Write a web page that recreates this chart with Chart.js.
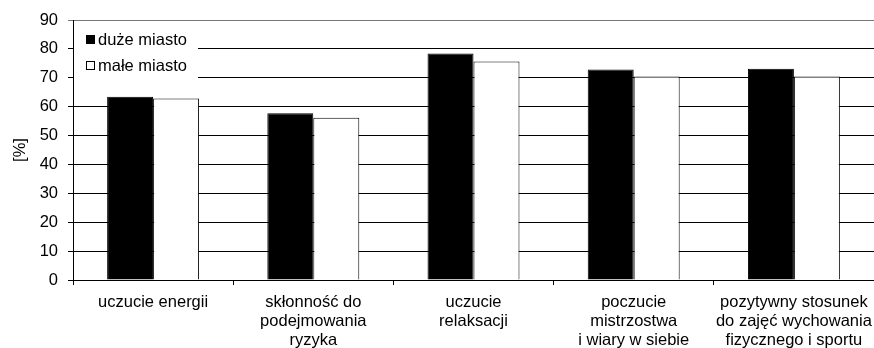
<!DOCTYPE html>
<html>
<head>
<meta charset="utf-8">
<script src="https://cdn.jsdelivr.net/npm/chart.js@4/dist/chart.umd.min.js"></script>
<style>
  html, body { margin: 0; padding: 0; background: #fff; }
  #wrap { width: 874px; height: 348px; }
</style>
</head>
<body>
<div id="wrap"><canvas id="chart" width="874" height="348"></canvas></div>
<script>
// Categories (multi-line labels)
const categories = [
  ['uczucie energii'],
  ['skłonność do', 'podejmowania', 'ryzyka'],
  ['uczucie', 'relaksacji'],
  ['poczucie', 'mistrzostwa', 'i wiary w siebie'],
  ['pozytywny stosunek', 'do zajęć wychowania', 'fizycznego i sportu']
];

const seriesNames = ['duże miasto', 'małe miasto'];

// Percent values per series
const duzeMiasto = [63.4, 57.7, 78.4, 72.9, 73.1];
const maleMiasto = [62.8, 56.2, 75.6, 70.4, 70.4];

const yTitle = '[%]';
const yMin = 0, yMax = 90, yStep = 10;

const FONT = '"Liberation Sans", Arial, Helvetica, sans-serif';
const FS = 16.5;

// Legend drawn inside the plot area on a white panel
const insideLegend = {
  id: 'insideLegend',
  afterDatasetsDraw(chart) {
    const ctx = chart.ctx;
    const a = chart.chartArea;
    ctx.save();
    ctx.fillStyle = '#ffffff';
    ctx.fillRect(a.left + 1, a.top + 5, 124, 62);
    ctx.font = FS + 'px ' + FONT;
    ctx.textBaseline = 'middle';
    ctx.textAlign = 'left';
    chart.data.datasets.forEach((ds, i) => {
      const bx = a.left + 13;
      const by = a.top + 15 + i * 26;
      ctx.fillStyle = ds.backgroundColor;
      ctx.fillRect(bx, by, 9, 9);
      ctx.strokeStyle = '#000';
      ctx.lineWidth = 1;
      ctx.strokeRect(bx + 0.5, by + 0.5, 8, 8);
      ctx.fillStyle = '#000';
      ctx.fillText(ds.label, bx + 12, by + 5);
    });
    ctx.restore();
  }
};

new Chart(document.getElementById('chart'), {
  type: 'bar',
  data: {
    labels: categories,
    datasets: [
      {
        label: seriesNames[0],
        data: duzeMiasto,
        backgroundColor: '#000000',
        borderColor: '#000000',
        borderWidth: 1
      },
      {
        label: seriesNames[1],
        data: maleMiasto,
        backgroundColor: '#ffffff',
        borderColor: '#000000',
        borderWidth: 1
      }
    ]
  },
  options: {
    responsive: false,
    animation: false,
    layout: { padding: { top: 20, right: 0, bottom: 0, left: 0 } },
    datasets: {
      bar: { categoryPercentage: 0.574, barPercentage: 1.0 }
    },
    plugins: {
      legend: { display: false },
      tooltip: { enabled: false }
    },
    scales: {
      x: {
        offset: true,
        grid: {
          display: true,
          offset: true,
          drawOnChartArea: false,
          drawTicks: true,
          tickLength: 5,
          color: '#000'
        },
        border: { display: true, color: '#000', width: 1 },
        ticks: {
          color: '#000',
          font: { family: FONT, size: FS, lineHeight: 1.15 },
          padding: 8,
          maxRotation: 0,
          minRotation: 0,
          autoSkip: false
        },
        afterFit(scale) {
          scale.height = 68;
          scale.paddingLeft = 0;
          scale.paddingRight = 0;
        }
      },
      y: {
        min: yMin,
        max: yMax,
        grid: {
          color: (c) => (c.tick && c.tick.value === yMax ? '#777' : '#000'),
          lineWidth: 1,
          drawTicks: true,
          tickLength: 5
        },
        border: { display: true, color: '#000', width: 1 },
        ticks: {
          stepSize: yStep,
          color: '#000',
          font: { family: FONT, size: FS },
          padding: 10
        },
        title: {
          display: true,
          text: yTitle,
          color: '#000',
          font: { family: FONT, size: FS, lineHeight: 1.2 },
          padding: { top: 11, bottom: 0 }
        },
        afterFit(scale) { scale.width = 73; }
      }
    }
  },
  plugins: [insideLegend]
});
</script>
</body>
</html>
